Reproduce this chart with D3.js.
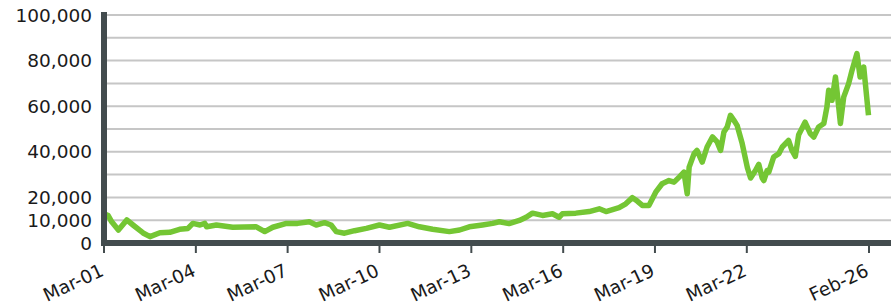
<!DOCTYPE html>
<html lang="en">
<head>
  <script src="https://d3js.org/d3.v7.min.js"></script>
  <style>
    html, body { margin: 0; padding: 0; background: #fff; }
    text { font-family: "DejaVu Sans", sans-serif; fill: #1a1a1a; }
  </style>
</head>
<body>
<script>
  // index level
  const dates = [
    "2001-03-01","2001-04-20","2001-06-01","2001-08-20","2001-11-28","2002-02-10","2002-06-10","2002-09-01",
    "2002-12-28","2003-04-25","2003-08-20","2003-11-28","2004-01-25","2004-04-20","2004-06-15","2004-07-08",
    "2004-11-01","2005-05-15","2006-02-20","2006-06-01","2006-09-05","2007-02-15","2007-06-28","2007-11-15",
    "2008-02-05","2008-05-15","2008-08-01","2008-10-01","2009-01-08","2009-05-08","2009-09-25","2010-03-01",
    "2010-06-28","2011-02-01","2011-06-20","2011-11-25","2012-06-12","2012-10-12","2013-02-05","2013-07-12",
    "2013-11-10","2014-01-30","2014-05-25","2014-09-25","2014-12-15","2015-03-01","2015-06-28","2015-10-25",
    "2016-01-12","2016-02-20","2016-07-30","2017-01-05","2017-05-05","2017-07-25","2017-12-28","2018-03-18",
    "2018-06-05","2018-08-02","2018-10-01","2018-12-20","2019-03-10","2019-05-25","2019-08-15","2019-10-15",
    "2019-12-15","2020-02-10","2020-03-20","2020-04-12","2020-06-10","2020-07-15","2020-09-15","2020-11-12",
    "2021-01-15","2021-03-12","2021-04-22","2021-06-01","2021-07-10","2021-08-18","2021-09-28","2021-11-05",
    "2022-01-05","2022-03-08","2022-04-15","2022-06-12","2022-07-22","2022-09-01","2022-09-20","2022-10-30",
    "2022-11-18","2023-01-15","2023-03-18","2023-04-28","2023-07-12","2023-08-22","2023-10-01","2023-11-10",
    "2024-01-25","2024-03-28","2024-05-08","2024-07-05","2024-09-05","2024-10-12","2024-11-02","2024-12-12",
    "2025-01-22","2025-03-02","2025-03-22","2025-04-30","2025-06-28","2025-08-08","2025-10-05","2025-11-12",
    "2025-12-25","2026-02-20"
  ];
  const values = [
    12800,12000,9300,5700,10100,7900,4400,2800,
    4500,4700,6000,6400,8600,7900,8600,7100,
    7900,6900,7100,5000,6900,8600,8600,9300,
    7900,8900,7900,5000,4300,5400,6400,7900,
    6900,8600,7100,6000,5000,5700,7100,7900,
    8600,9300,8500,9900,11300,13100,12100,12800,
    11300,12800,13100,13800,15000,13800,15500,17200,
    19900,18400,16500,16500,22300,26000,27400,26700,
    28900,31100,21600,33300,39200,40600,35500,42100,
    46500,44300,40600,48700,50900,56000,53800,51600,
    43600,33000,28500,31800,34500,28500,27400,31800,
    31100,37700,39200,42100,45000,40600,38000,47500,
    53000,48000,46500,50900,52400,59600,67000,62600,
    72800,59600,52400,64000,69900,75800,83100,72800,
    77200,56000
  ];

  const yTicks = [0, 10000, 20000, 40000, 60000, 80000, 100000];
  const yGrid = [10000, 20000, 30000, 40000, 50000, 60000, 70000, 80000, 90000, 100000];
  const xTickDates = ["2001-03-01","2004-03-01","2007-03-01","2010-03-01","2013-03-01",
                      "2016-03-01","2019-03-01","2022-03-01","2026-02-26"];
  const xTickLabels = ["Mar-01","Mar-04","Mar-07","Mar-10","Mar-13","Mar-16","Mar-19","Mar-22","Feb-26"];

  const W = 891, H = 307;
  const parse = d3.timeParse("%Y-%m-%d");
  const data = dates.map((d, i) => ({ date: parse(d), value: values[i] }));

  const svg = d3.select("body").append("svg")
    .attr("width", W).attr("height", H);

  const x = d3.scaleTime()
    .domain([parse("2001-03-01"), parse("2026-02-26")])
    .range([104, 869]);
  const y = d3.scaleLinear()
    .domain([0, 100000])
    .range([243, 15]);

  const axisColor = "#434c4e";

  // gridlines
  svg.append("g")
    .selectAll("line")
    .data(yGrid)
    .enter().append("line")
    .attr("x1", 107).attr("x2", W)
    .attr("y1", d => y(d)).attr("y2", d => y(d))
    .attr("stroke", "#c6c6c6")
    .attr("stroke-width", 2);

  // y labels
  svg.append("g")
    .selectAll("text")
    .data(yTicks)
    .enter().append("text")
    .attr("x", 92)
    .attr("y", d => y(d))
    .attr("dy", "0.36em")
    .attr("text-anchor", "end")
    .attr("font-size", 18.5)
    .text(d => d3.format(",")(d));

  // the line
  svg.append("path")
    .datum(data)
    .attr("fill", "none")
    .attr("stroke", "#74c634")
    .attr("stroke-width", 5.5)
    .attr("stroke-linejoin", "round")
    .attr("d", d3.line()
      .x(d => x(d.date))
      .y(d => y(d.value)));

  // x axis bar and ticks
  svg.append("line")
    .attr("x1", 101).attr("x2", W)
    .attr("y1", y(0)).attr("y2", y(0))
    .attr("stroke", axisColor).attr("stroke-width", 6);

  svg.append("line")
    .attr("x1", 104).attr("x2", 104)
    .attr("y1", 12).attr("y2", y(0))
    .attr("stroke", axisColor).attr("stroke-width", 6);

  const xt = svg.append("g")
    .selectAll("g")
    .data(xTickDates)
    .enter().append("g")
    .attr("transform", d => "translate(" + x(parse(d)) + ",0)");

  xt.append("line")
    .attr("y1", y(0) + 3).attr("y2", 253)
    .attr("stroke", axisColor).attr("stroke-width", 2);

  xt.append("text")
    .attr("text-anchor", "end")
    .attr("font-size", 18.5)
    .attr("transform", "translate(1,275) rotate(-25)")
    .text((d, i) => xTickLabels[i]);
</script>
</body>
</html>
